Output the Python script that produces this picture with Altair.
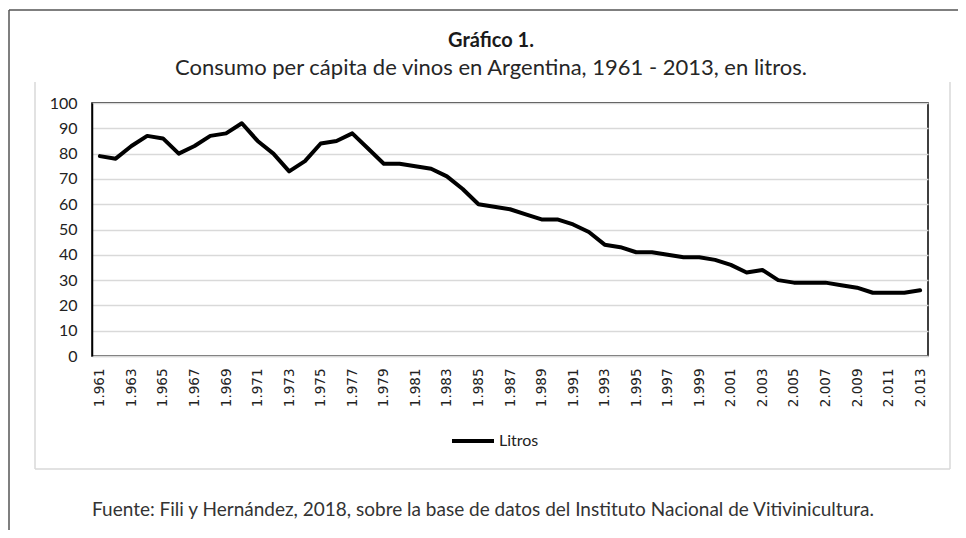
import altair as alt
import pandas as pd

years = list(range(1961, 2014))
litros = [79, 78, 83, 87, 86, 80, 83, 87, 88, 92,
          85, 80, 73, 77, 84, 85, 88, 82, 76, 76,
          75, 74, 71, 66, 60, 59, 58, 56, 54, 54,
          52, 49, 44, 43, 41, 41, 40, 39, 39, 38,
          36, 33, 34, 30, 29, 29, 29, 28, 27, 25,
          25, 25, 26]
series_name = "Litros"
title_text = "Gráfico 1."
subtitle_text = "Consumo per cápita de vinos en Argentina, 1961 - 2013, en litros."
source_text = "Fuente: Fili y Hernández, 2018, sobre la base de datos del Instituto Nacional de Vitivinicultura."
y_ticks = list(range(0, 101, 10))

labels = [f"{y // 1000}.{y % 1000:03d}" for y in years]
shown_labels = labels[::2]

df = pd.DataFrame({"anio": labels, "valor": litros, "serie": series_name})
one = pd.DataFrame({"k": [0]})

W, H = 836, 253
FONT = "Lato"

line = alt.Chart(df).mark_line(strokeWidth=4, strokeJoin="round", strokeCap="round").encode(
    x=alt.X("anio:O", sort=labels,
            scale=alt.Scale(type="point", padding=0.5),
            axis=alt.Axis(title=None, values=shown_labels, labelAngle=270,
                          labelFont="DejaVu Sans", labelFontSize=13.5, labelColor="#222222",
                          labelPadding=12, ticks=False, domainColor="#d9d9d9",
                          domainWidth=1.5, grid=False)),
    y=alt.Y("valor:Q", scale=alt.Scale(domain=[0, 100], nice=False),
            axis=alt.Axis(title=None, values=y_ticks, labelFont=FONT, labelFontSize=16,
                          labelColor="#222222", labelPadding=15, ticks=False,
                          domainColor="black", domainWidth=1.5,
                          gridColor="#d9d9d9", gridWidth=1.5)),
    color=alt.Color("serie:N", scale=alt.Scale(domain=[series_name], range=["black"]),
                    legend=alt.Legend(title=None, orient="none", legendX=358, legendY=315,
                                      symbolType="stroke", symbolSize=1764,
                                      symbolStrokeWidth=4, labelFont=FONT,
                                      labelFontSize=16, labelColor="#222222",
                                      labelOffset=3)),
)

title = alt.Chart(one).mark_text(font=FONT, fontSize=20, fontWeight="bold", color="#1a1a1a",
                                 align="center", baseline="middle").encode(
    x=alt.value(399), y=alt.value(-62), text=alt.value(title_text))
subtitle = alt.Chart(one).mark_text(font=FONT, fontSize=22, color="#262626",
                                    align="center", baseline="middle").encode(
    x=alt.value(399), y=alt.value(-35), text=alt.value(subtitle_text))
footer = alt.Chart(one).mark_text(font=FONT, fontSize=19, color="#333333",
                                  align="center", baseline="middle").encode(
    x=alt.value(391), y=alt.value(407), text=alt.value(source_text))

outer_top = alt.Chart(one).mark_rule(color="#555555", strokeWidth=1.5).encode(
    x=alt.value(-83), x2=alt.value(900), y=alt.value(-93))
outer_left = alt.Chart(one).mark_rule(color="#555555", strokeWidth=1.5).encode(
    x=alt.value(-83), y=alt.value(-93), y2=alt.value(440))
inner_left = alt.Chart(one).mark_rule(color="#d9d9d9", strokeWidth=1.5).encode(
    x=alt.value(-57), y=alt.value(-21), y2=alt.value(366))
inner_right = alt.Chart(one).mark_rule(color="#d9d9d9", strokeWidth=1.5).encode(
    x=alt.value(858), y=alt.value(-21), y2=alt.value(366))
inner_bottom = alt.Chart(one).mark_rule(color="#d9d9d9", strokeWidth=1.5).encode(
    x=alt.value(-57), x2=alt.value(858), y=alt.value(366))

chart = alt.layer(outer_top, outer_left, inner_left, inner_right, inner_bottom,
                  line, title, subtitle, footer).properties(
    width=W, height=H,
    padding={"left": 84, "top": 95, "right": 30, "bottom": 174},
    autosize=alt.AutoSizeParams(type="none"),
).configure_view(stroke="black", strokeWidth=1.5)

chart.save("out.html", embed_options={"renderer": "svg", "actions": False})
